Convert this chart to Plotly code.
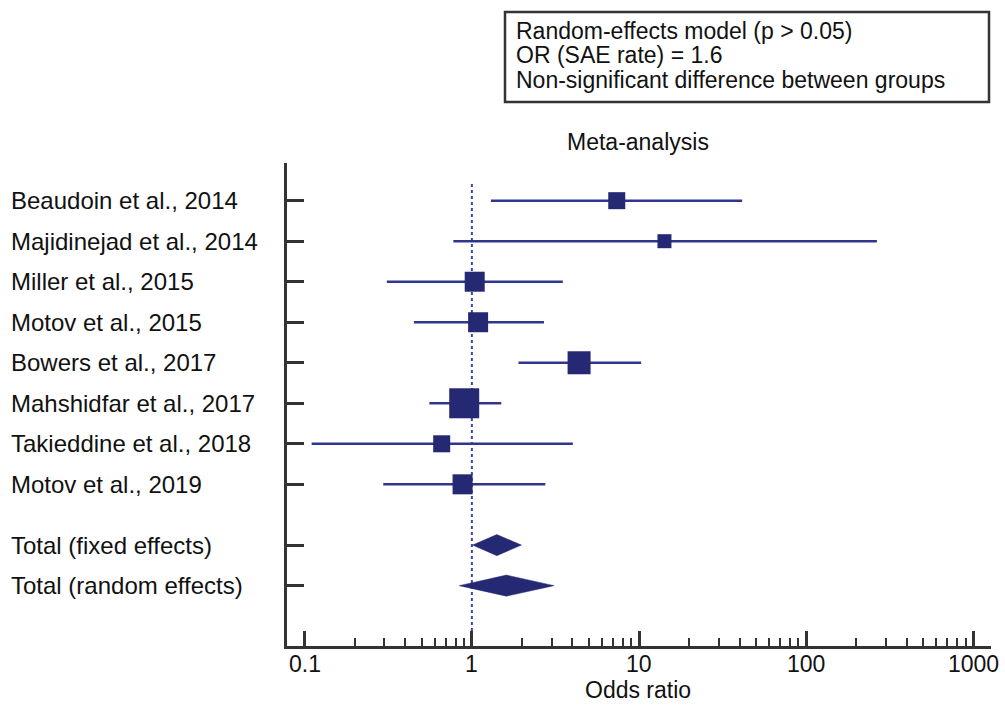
import math
import plotly.graph_objects as go

# ---------------- data ----------------
studies = ["Beaudoin et al., 2014", "Majidinejad et al., 2014", "Miller et al., 2015",
           "Motov et al., 2015", "Bowers et al., 2017", "Mahshidfar et al., 2017",
           "Takieddine et al., 2018", "Motov et al., 2019"]
study_or = [7.36, 14.2, 1.04, 1.09, 4.38, 0.90, 0.66, 0.88]
study_lo = [1.30, 0.775, 0.31, 0.45, 1.90, 0.557, 0.110, 0.295]
study_hi = [41.4, 265.0, 3.50, 2.70, 10.3, 1.50, 4.02, 2.75]
study_rows = [0, 1, 2, 3, 4, 5, 6, 7]

totals = ["Total (fixed effects)", "Total (random effects)"]
total_or = [1.41, 1.61]
total_lo = [1.01, 0.84]
total_hi = [1.98, 3.10]
total_rows = [8.5, 9.5]

x_tickvals = [0.1, 1, 10, 100, 1000]
x_ticktext = ["0.1", "1", "10", "100", "1000"]

box_lines = ["Random-effects model (p > 0.05)", "OR (SAE rate) = 1.6",
             "Non-significant difference between groups"]

# ---------------- style ----------------
marker_sizes = [17, 14, 20, 20, 23, 30, 17, 20]
LINE_C = "#30368f"
FILL_C = "#252872"
AX_C = "#333333"
TXT_C = "#111111"
FONT = "Liberation Sans, Arial, sans-serif"
FS = 23
FS_LAB = 24

W, H = 1005, 706
ML, MR, MT, MB = 287, 14, 163, 60
PW, PH = W - ML - MR, H - MT - MB


def px_x(p):
    return (p - ML) / PW


def px_y(p):
    return (H - MB - p) / PH


fig = go.Figure()

# reference line at OR = 1
fig.add_trace(go.Scatter(x=[1, 1], y=[-0.41, 11], mode="lines",
                         line=dict(color="#3b44b0", width=2, dash="dot"),
                         hoverinfo="skip", showlegend=False))

# confidence intervals
cx, cy = [], []
for lo, hi, r in zip(study_lo, study_hi, study_rows):
    cx += [lo, hi, None]
    cy += [r, r, None]
fig.add_trace(go.Scatter(x=cx, y=cy, mode="lines",
                         line=dict(color=LINE_C, width=2.6),
                         hoverinfo="skip", showlegend=False))

# point estimates
fig.add_trace(go.Scatter(x=study_or, y=study_rows, mode="markers",
                         marker=dict(symbol="square", size=marker_sizes, color=FILL_C,
                                     opacity=1, line=dict(width=0)),
                         showlegend=False))

# pooled diamonds
hh = 0.26
for lo, est, hi, r in zip(total_lo, total_or, total_hi, total_rows):
    fig.add_trace(go.Scatter(x=[lo, est, hi, est, lo], y=[r, r - hh, r, r + hh, r],
                             mode="lines", fill="toself", fillcolor=FILL_C,
                             line=dict(color=FILL_C, width=0.5),
                             showlegend=False))

annotations = []
for name, r in zip(studies + totals, study_rows + total_rows):
    annotations.append(dict(text=name, x=px_x(9), xref="paper", y=r, yref="y",
                            xanchor="left", yanchor="middle", showarrow=False,
                            font=dict(family=FONT, size=FS_LAB, color=TXT_C)))

# x tick labels (log axis: annotation x is log10 of the value)
for v, t in zip(x_tickvals, x_ticktext):
    annotations.append(dict(text=t, x=math.log10(v), xref="x", y=px_y(664),
                            yref="paper", xanchor="center", yanchor="middle",
                            showarrow=False,
                            font=dict(family=FONT, size=FS, color=TXT_C)))

annotations.append(dict(text="Meta-analysis", x=px_x(638), xref="paper", y=px_y(142),
                        yref="paper", xanchor="center", yanchor="middle", showarrow=False,
                        font=dict(family=FONT, size=23, color=TXT_C)))
annotations.append(dict(text="Odds ratio", x=px_x(638), xref="paper", y=px_y(690),
                        yref="paper", xanchor="center", yanchor="middle", showarrow=False,
                        font=dict(family=FONT, size=FS, color=TXT_C)))

for line, yy in zip(box_lines, [31, 55.5, 80]):
    annotations.append(dict(text=line, x=px_x(514), xref="paper", y=px_y(yy),
                            yref="paper", xanchor="left", yanchor="middle", showarrow=False,
                            font=dict(family=FONT, size=23, color=TXT_C)))

fig.add_shape(type="rect", xref="paper", yref="paper",
              x0=px_x(505), x1=px_x(989), y0=px_y(102), y1=px_y(12),
              line=dict(color=AX_C, width=2.5), fillcolor="rgba(0,0,0,0)")

minor_vals = [m * d for d in [0.1, 1, 10, 100] for m in range(2, 10)]

fig.update_layout(
    width=W, height=H,
    margin=dict(l=ML, r=MR, t=MT, b=MB, pad=0),
    paper_bgcolor="white", plot_bgcolor="white",
    font=dict(family=FONT, size=FS, color=TXT_C),
    annotations=annotations,
    xaxis=dict(type="log", range=[-1.106, 3.106], tickmode="array",
               tickvals=x_tickvals, ticktext=x_ticktext, showticklabels=False,
               ticks="inside", ticklen=15, tickwidth=2.5, tickcolor=AX_C,
               minor=dict(tickmode="array", tickvals=minor_vals, ticks="inside",
                          ticklen=8, tickwidth=1.5, tickcolor=AX_C, showgrid=False),
               showline=True, linewidth=2.5, linecolor=AX_C,
               showgrid=False, zeroline=False),
    yaxis=dict(range=[10.99, -0.93], tickmode="array",
               tickvals=study_rows + total_rows, showticklabels=False,
               ticks="inside", ticklen=17, tickwidth=2.5, tickcolor=AX_C,
               showline=True, linewidth=2.5, linecolor=AX_C,
               showgrid=False, zeroline=False),
)

fig.write_html("out.html", config={"displayModeBar": False},
               post_script="document.body.style.margin='0';")
